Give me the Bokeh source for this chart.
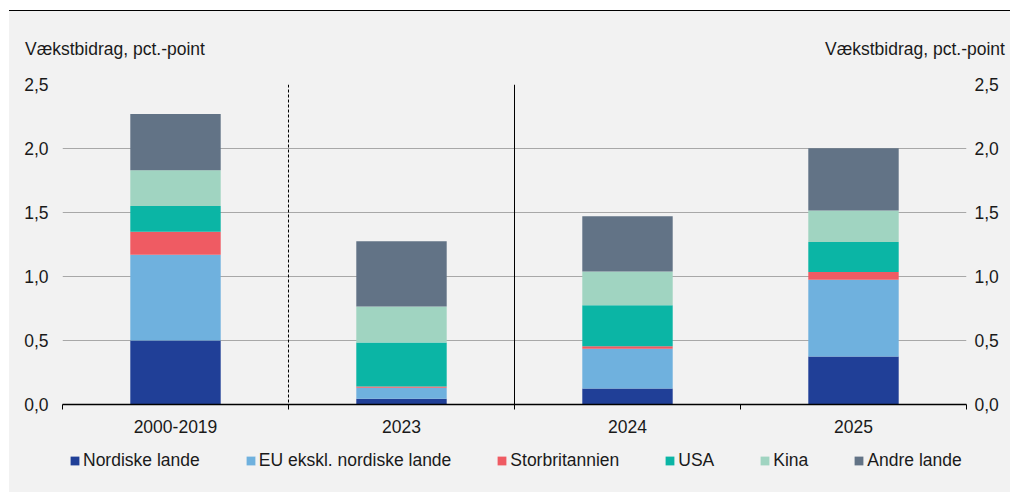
from bokeh.plotting import figure
from bokeh.layouts import column
from bokeh.models import (Range1d, LinearAxis, FixedTicker, CustomJSTickFormatter,
                          Span, Legend, LegendItem)
from bokeh.embed import file_html
from bokeh.resources import INLINE

categories = ["2000-2019", "2023", "2024", "2025"]
series_names = ["Nordiske lande", "EU ekskl. nordiske lande", "Storbritannien", "USA", "Kina", "Andre lande"]
nordiske = [0.50, 0.045, 0.125, 0.375]
eu = [0.67, 0.085, 0.31, 0.60]
uk = [0.18, 0.01, 0.02, 0.06]
usa = [0.20, 0.345, 0.32, 0.235]
kina = [0.28, 0.28, 0.265, 0.245]
andre = [0.44, 0.51, 0.43, 0.487]
colors = ["#203f97", "#6fb1de", "#ef5b63", "#0bb5a5", "#a0d4c1", "#627386"]
y_ticks = [0.0, 0.5, 1.0, 1.5, 2.0, 2.5]
axis_title = "Vækstbidrag, pct.-point"

FONT = "Liberation Sans"
FS = "17.5px"
BG = "#f2f2f2"
TXT = "#1a1a1a"

n = len(categories)
xs = [i + 0.5 for i in range(n)]
data = dict(x=xs, cat=categories)
keys = ["s0", "s1", "s2", "s3", "s4", "s5"]
for k, v in zip(keys, [nordiske, eu, uk, usa, kina, andre]):
    data[k] = v

p = figure(width=1001, height=430, output_backend="svg", toolbar_location=None,
           x_range=Range1d(0, n), y_range=Range1d(0, 2.5),
           background_fill_color=BG, border_fill_color=BG,
           min_border_left=53, min_border_right=44, min_border_top=73, min_border_bottom=37,
           x_axis_location=None, y_axis_location=None)
p.outline_line_color = None
p.styles = {"border-top": "1px solid #000000"}

p.vbar_stack(keys, x="x", width=0.4, color=colors, line_color=None, source=data)

fmt = CustomJSTickFormatter(code="return tick.toFixed(1).replace('.', ',');")


def y_axis(standoff):
    ax = LinearAxis(ticker=FixedTicker(ticks=y_ticks), formatter=fmt)
    ax.axis_line_color = None
    ax.major_tick_line_color = None
    ax.minor_tick_line_color = None
    ax.major_tick_out = 0
    ax.major_tick_in = 0
    ax.major_label_standoff = standoff
    ax.major_label_text_font = FONT
    ax.major_label_text_font_size = FS
    ax.major_label_text_color = TXT
    return ax


p.add_layout(y_axis(14), "left")
p.add_layout(y_axis(8), "right")

# axis titles carried by an axis above the frame
title_pos = [0.232, 3.772]
ta = LinearAxis(ticker=FixedTicker(ticks=title_pos))
ta.major_label_overrides = {t: axis_title for t in title_pos}
ta.axis_line_color = None
ta.major_tick_line_color = None
ta.minor_tick_line_color = None
ta.major_tick_out = 0
ta.major_tick_in = 0
ta.major_label_standoff = 26
ta.major_label_text_font = FONT
ta.major_label_text_font_size = FS
ta.major_label_text_color = TXT
p.add_layout(ta, "above")

# category axis below
xa = LinearAxis(ticker=FixedTicker(ticks=xs, minor_ticks=list(range(n + 1))))
xa.major_label_overrides = {x: c for x, c in zip(xs, categories)}
xa.major_tick_line_color = None
xa.major_tick_out = 0
xa.major_tick_in = 0
xa.minor_tick_out = 5
xa.minor_tick_in = 0
xa.minor_tick_line_color = "#000000"
xa.axis_line_color = "#000000"
xa.axis_line_width = 1.5
xa.major_label_standoff = 10
xa.major_label_text_font = FONT
xa.major_label_text_font_size = FS
xa.major_label_text_color = TXT
p.add_layout(xa, "below")

p.xgrid.grid_line_color = None
p.ygrid.ticker = FixedTicker(ticks=y_ticks)
p.ygrid.grid_line_color = "#a8a8a8"
p.ygrid.grid_line_width = 1

p.add_layout(Span(location=1, dimension="height", line_color="#000000", line_width=1, line_dash="3 2"))
p.add_layout(Span(location=2, dimension="height", line_color="#000000", line_width=1))

# legend strip below the chart (its stacked bars lie outside its visible range)
pl = figure(width=1001, height=52, output_backend="svg", toolbar_location=None,
            x_range=Range1d(100, 101), y_range=Range1d(100, 101),
            background_fill_color=BG, border_fill_color=BG,
            min_border=0, x_axis_location=None, y_axis_location=None)
pl.outline_line_color = None
pl.xgrid.grid_line_color = None
pl.ygrid.grid_line_color = None
leg_renderers = pl.vbar_stack(keys, x="x", width=0.4, color=colors, line_color=None, source=data)
items = [LegendItem(label=nm, renderers=[r]) for nm, r in zip(series_names, leg_renderers)]
legend = Legend(items=items, orientation="horizontal", location=(7, 21),
                background_fill_alpha=0, border_line_color=None,
                glyph_width=11, glyph_height=11, label_standoff=3, spacing=45,
                padding=0, margin=0,
                label_text_font=FONT, label_text_font_size=FS, label_text_color=TXT)
pl.add_layout(legend, "center")

layout = column(p, pl, spacing=0)
layout.styles = {"margin-left": "9px", "margin-top": "10px", "background-color": BG}

open("out.html", "w").write(file_html(layout, INLINE))
